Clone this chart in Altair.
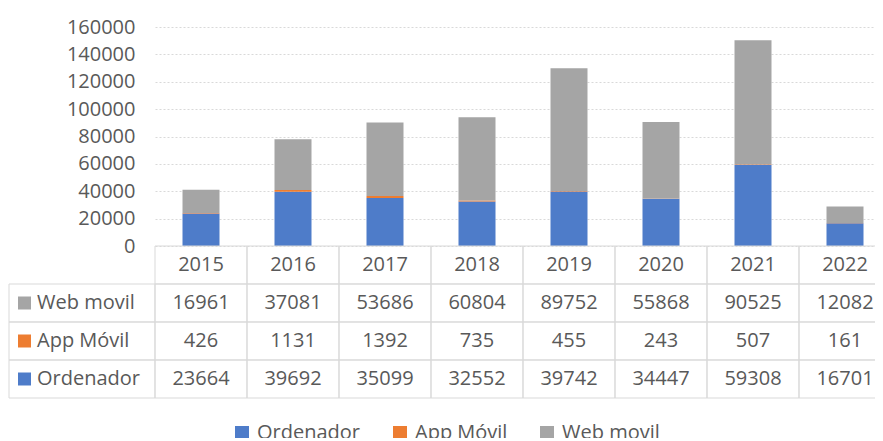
import altair as alt
import pandas as pd

# ---- data ----
years = ["2015", "2016", "2017", "2018", "2019", "2020", "2021", "2022"]
series = ["Ordenador", "App Móvil", "Web movil"]
ordenador = [23664, 39692, 35099, 32552, 39742, 34447, 59308, 16701]
app_movil = [426, 1131, 1392, 735, 455, 243, 507, 161]
web_movil = [16961, 37081, 53686, 60804, 89752, 55868, 90525, 12082]
table_rows = ["Web movil", "App Móvil", "Ordenador"]
y_ticks = [0, 20000, 40000, 60000, 80000, 100000, 120000, 140000, 160000]
colors = ["#4E7CC9", "#ED7D31", "#A5A5A5"]

FONT = "Open Sans"
GREY = "#595959"
LINE = "#D9D9D9"

values_by_series = {"Ordenador": ordenador, "App Móvil": app_movil, "Web movil": web_movil}
recs = []
for si, s in enumerate(series):
    for y, v in zip(years, values_by_series[s]):
        recs.append({"year": y, "series": s, "value": v, "order": si, "row": s})
long_df = pd.DataFrame(recs)

header_df = pd.DataFrame({"year": years, "row": ["header"] * len(years)})
cells_df = pd.DataFrame(
    [{"year": y, "row": r} for r in ["header"] + table_rows for y in years]
)
labels_df = pd.DataFrame({"row": table_rows, "series": table_rows})

x_enc = alt.X(
    "year:N",
    scale=alt.Scale(domain=years, range=[0, 736], paddingInner=0, paddingOuter=0),
    axis=None,
)
row_scale = alt.Scale(
    domain=["header"] + table_rows, range=[219, 371], paddingInner=0, paddingOuter=0
)
color_enc = alt.Color(
    "series:N",
    scale=alt.Scale(domain=series, range=colors),
    legend=alt.Legend(
        orient="none",
        legendX=77,
        legendY=396,
        direction="horizontal",
        columns=3,
        title=None,
        symbolType="square",
        symbolSize=196,
        symbolStrokeWidth=0,
        labelFontSize=20,
        labelFont=FONT,
        labelColor=GREY,
        labelOffset=5,
        columnPadding=29,
        padding=0,
    ),
)

bars = alt.Chart(long_df).mark_bar(size=37).encode(
    x=x_enc,
    y=alt.Y(
        "value:Q",
        stack="zero",
        scale=alt.Scale(domain=[0, 160000], range=[219, 0], nice=False),
        axis=alt.Axis(
            values=y_ticks,
            format="d",
            grid=True,
            gridColor=LINE,
            gridDash=[2, 2],
            domain=False,
            ticks=False,
            labelFontSize=20,
            labelFont=FONT,
            labelColor=GREY,
            labelPadding=20,
            title=None,
        ),
    ),
    color=color_enc,
    order=alt.Order("order:Q", sort="ascending"),
)

cells = alt.Chart(cells_df).mark_rect(fill="white", fillOpacity=0, stroke=LINE, strokeWidth=1).encode(
    x=x_enc,
    y=alt.Y("row:N", scale=row_scale, axis=None),
)

label_cells = alt.Chart(labels_df).mark_rect(fill="white", fillOpacity=0, stroke=LINE, strokeWidth=1).encode(
    x=alt.value(-146),
    x2=alt.value(0),
    y=alt.Y("row:N", scale=row_scale, axis=None),
)

header_text = alt.Chart(header_df).mark_text(fontSize=20, font=FONT, color=GREY).encode(
    x=x_enc,
    y=alt.Y("row:N", scale=row_scale, axis=None),
    text="year:N",
)

value_text = alt.Chart(long_df).mark_text(fontSize=20, font=FONT, color=GREY).encode(
    x=x_enc,
    y=alt.Y("row:N", scale=row_scale, axis=None),
    text=alt.Text("value:Q", format="d"),
)

label_text = alt.Chart(labels_df).mark_text(fontSize=20, font=FONT, color=GREY, align="left").encode(
    x=alt.value(-118),
    y=alt.Y("row:N", scale=row_scale, axis=None),
    text="row:N",
)

label_squares = alt.Chart(labels_df).mark_square(size=169, opacity=1).encode(
    x=alt.value(-130.5),
    y=alt.Y("row:N", scale=row_scale, axis=None),
    color=color_enc,
)

chart = (
    alt.layer(bars, cells, label_cells, header_text, value_text, label_text, label_squares)
    .resolve_scale(y="independent")
    .properties(
        width=720,
        height=371,
        autosize=alt.AutoSizeParams(type="none"),
        padding={"left": 147, "top": 19, "right": 0, "bottom": 40},
    )
    .configure_view(stroke=None)
)

chart.save("out.html", embed_options={"renderer": "svg", "actions": False})
